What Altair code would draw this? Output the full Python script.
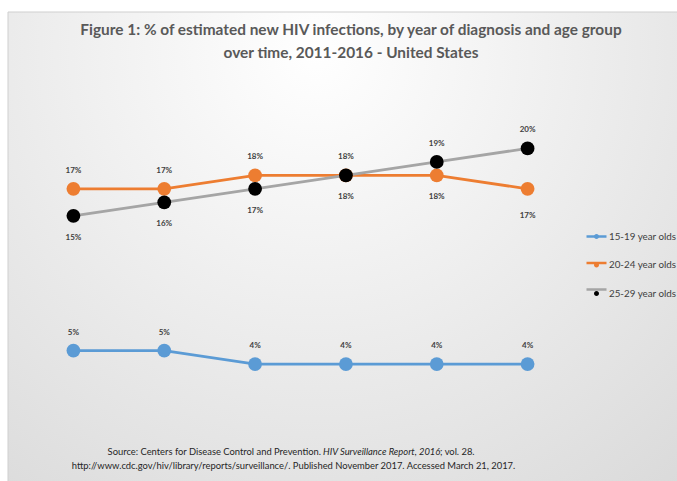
import altair as alt
import pandas as pd

years = [2011, 2012, 2013, 2014, 2015, 2016]
series = ["15-19 year olds", "20-24 year olds", "25-29 year olds"]
v_15_19 = [5, 5, 4, 4, 4, 4]
v_20_24 = [17, 17, 18, 18, 18, 17]
v_25_29 = [15, 16, 17, 18, 19, 20]
labels_15_19 = ["5%", "5%", "4%", "4%", "4%", "4%"]
labels_20_24 = ["17%", "17%", "18%", "18%", "18%", "17%"]
labels_25_29 = ["15%", "16%", "17%", "18%", "19%", "20%"]
place_15_19 = ["above"] * 6
place_20_24 = ["above", "above", "above", "above", "below", "far below"]
place_25_29 = ["below", "below", "below", "below", "above", "above"]

line_colors = ["#5B9BD5", "#ED7D31", "#A5A5A5"]
point_colors = ["#5B9BD5", "#ED7D31", "#000000"]

rows = []
for s, vals, labs, pl in zip(series, [v_15_19, v_20_24, v_25_29],
                             [labels_15_19, labels_20_24, labels_25_29],
                             [place_15_19, place_20_24, place_25_29]):
    for i, y in enumerate(years):
        rows.append({"year": y, "series": s, "value": vals[i], "label": labs[i],
                     "place": pl[i], "order": series.index(s)})
df = pd.DataFrame(rows)

FONT = "Lato"

bg = alt.Chart(pd.DataFrame({"a": [0]})).mark_rect(
    color={"gradient": "radial", "x1": 0.45, "y1": 0.2, "r1": 0.0,
           "x2": 0.45, "y2": 0.2, "r2": 0.85,
           "stops": [{"offset": 0, "color": "#ffffff"},
                     {"offset": 1, "color": "#d9d9d9"}]},
    stroke="#cfcfcf", strokeWidth=1,
).encode(x=alt.value(-20), x2=alt.value(665), y=alt.value(-69), y2=alt.value(420))

x_enc = alt.X("year:O", scale=alt.Scale(type="point", padding=0.5),
              axis=alt.Axis(title=None, labelAngle=0, ticks=False, domainColor="#404040",
                            domainWidth=2.5, labelFontSize=8, labelColor="#595959",
                            labelPadding=7, labelFont=FONT))
y_enc = alt.Y("value:Q", scale=alt.Scale(domain=[0, 25], nice=False),
              axis=alt.Axis(title=None, labels=False, ticks=False, domain=False,
                            values=[0, 5, 10, 15, 20, 25],
                            gridColor={"condition": {"test": "datum.value == 25", "value": "#dedede"},
                                       "value": "#b3b3b3"},
                            gridWidth=1.2))

LEG = dict(title=None, orient="none", legendX=557, legendY=144, padding=0, rowPadding=9.5,
           symbolSize=400, symbolStrokeWidth=2.5, labelOffset=1,
           labelFontSize=9.8, labelFont=FONT, labelColor="#404040", labelLimit=200)

base = alt.Chart(df)

lines = base.mark_line(strokeWidth=2.8).encode(
    x=x_enc, y=y_enc,
    stroke=alt.Stroke("series:N", scale=alt.Scale(domain=series, range=line_colors),
                      legend=alt.Legend(symbolType="M-1,0H1", labelExpr="''", **LEG)),
    detail="series:N",
)

points = base.mark_circle(size=190, opacity=1).encode(
    x=x_enc, y=y_enc,
    fill=alt.Fill("series:N", scale=alt.Scale(domain=series, range=point_colors),
                  legend=alt.Legend(symbolType="M-0.25,0A0.25,0.25 0 1,0 0.25,0A0.25,0.25 0 1,0 -0.25,0Z",
                                    symbolStrokeColor="transparent", **LEG)),
    order="order:Q",
)

lab_style = dict(fontSize=8, fontWeight="bold", color="#404040", font=FONT)
above = base.transform_filter(alt.datum.place == "above").mark_text(dy=-18, **lab_style).encode(
    x=x_enc, y=y_enc, text="label:N")
below = base.transform_filter(alt.datum.place == "below").mark_text(dy=22, **lab_style).encode(
    x=x_enc, y=y_enc, text="label:N")
far_below = base.transform_filter(alt.datum.place == "far below").mark_text(dy=27, **lab_style).encode(
    x=x_enc, y=y_enc, text="label:N")

one = pd.DataFrame({"a": [0]})
title_style = dict(fontSize=15.4, fontWeight="bold", color="#595959", font=FONT,
                   align="center", baseline="middle")
t1 = alt.Chart(one).mark_text(**title_style).encode(
    x=alt.value(323), y=alt.value(-51),
    text=alt.value("Figure 1: % of estimated new HIV infections, by year of diagnosis and age group"))
t2 = alt.Chart(one).mark_text(**title_style).encode(
    x=alt.value(323), y=alt.value(-28.5),
    text=alt.value("over time, 2011-2016 - United States"))

src_style = dict(fontSize=9.4, color="#262626", font=FONT, baseline="middle")
s1a = alt.Chart(one).mark_text(align="right", **src_style).encode(
    x=alt.value(293), y=alt.value(371),
    text=alt.value("Source: Centers for Disease Control and Prevention."))
s1b = alt.Chart(one).mark_text(align="left", fontStyle="italic", **src_style).encode(
    x=alt.value(295), y=alt.value(371),
    text=alt.value("HIV Surveillance Report, 2016"))
s1c = alt.Chart(one).mark_text(align="left", **src_style).encode(
    x=alt.value(412), y=alt.value(371),
    text=alt.value("; vol. 28."))
s2 = alt.Chart(one).mark_text(align="center", **src_style).encode(
    x=alt.value(265.5), y=alt.value(385),
    text=alt.value("http://www.cdc.gov/hiv/library/reports/surveillance/. Published November 2017. Accessed March 21, 2017."))

chart = alt.layer(bg, lines, points, above, below, far_below, t1, t2, s1a, s1b, s1c, s2).resolve_scale(
    fill="independent", stroke="independent"
).properties(
    width=545, height=337,
    padding={"left": 28, "top": 81, "right": 104, "bottom": 63},
    autosize=alt.AutoSizeParams(type="none"),
    background="white",
).configure_view(stroke=None)

chart.save("out.html", embed_options={"renderer": "svg", "actions": False})
